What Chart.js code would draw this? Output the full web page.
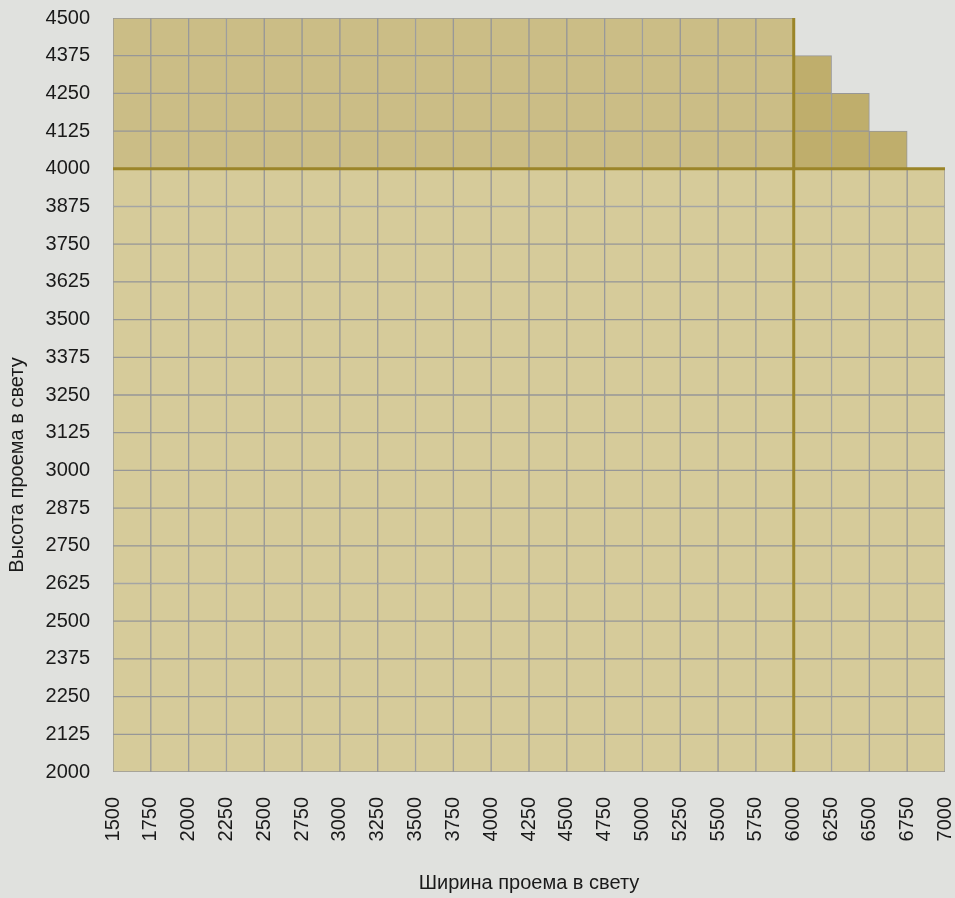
<!DOCTYPE html>
<html>
<head>
<meta charset="utf-8">
<script src="https://cdn.jsdelivr.net/npm/chart.js@4.4.0/dist/chart.umd.min.js"></script>
<style>
  html, body { margin: 0; padding: 0; background: #e0e1de; }
  #wrap { width: 955px; height: 898px; }
</style>
</head>
<body>
<div id="wrap"><canvas id="myChart"></canvas></div>
<script>
// opening width ticks (x) and height ticks (y)
const widthTicks = [1500, 1750, 2000, 2250, 2500, 2750, 3000, 3250, 3500, 3750, 4000,
  4250, 4500, 4750, 5000, 5250, 5500, 5750, 6000, 6250, 6500, 6750, 7000];
const heightTicks = [2000, 2125, 2250, 2375, 2500, 2625, 2750, 2875, 3000, 3125, 3250,
  3375, 3500, 3625, 3750, 3875, 4000, 4125, 4250, 4375, 4500];

// each cell column starts at columnStarts[i] and reaches up to columnTops[i]
const columnStarts = [1500, 1750, 2000, 2250, 2500, 2750, 3000, 3250, 3500, 3750, 4000,
  4250, 4500, 4750, 5000, 5250, 5500, 5750, 6000, 6250, 6500, 6750];
const columnTops = [4500, 4500, 4500, 4500, 4500, 4500, 4500, 4500, 4500, 4500, 4500,
  4500, 4500, 4500, 4500, 4500, 4500, 4500, 4375, 4250, 4125, 4000];
const columnWidth = 250;

// the two bold limit lines
const limitHeight = 4000;
const limitWidth = 6000;

const colors = {
  base: "#d6cb9a",
  upper: "#cbbd86",
  extra: "#bfae6c",
  limit: "#9b8529",
  grid: "#979797",
  text: "#1a1a1a",
};

// one bar dataset per row band, so every cell gets its own border
const datasets = [];
for (let r = 0; r < heightTicks.length - 1; r++) {
  const lo = heightTicks[r];
  const hi = heightTicks[r + 1];
  const data = [];
  const bg = [];
  columnStarts.forEach((start, i) => {
    if (columnTops[i] < hi) return;
    data.push({ x: start + columnWidth / 2, y: [lo, hi] });
    if (hi <= limitHeight) bg.push(colors.base);
    else if (start < limitWidth) bg.push(colors.upper);
    else bg.push(colors.extra);
  });
  datasets.push({
    type: "bar",
    data: data,
    backgroundColor: bg,
    borderColor: colors.grid,
    borderWidth: 1,
    borderSkipped: false,
    grouped: false,
    barPercentage: 1,
    categoryPercentage: 1,
    order: 2,
  });
}

datasets.push({
  type: "line",
  data: [{ x: widthTicks[0], y: limitHeight }, { x: widthTicks[widthTicks.length - 1], y: limitHeight }],
  borderColor: colors.limit,
  borderWidth: 3,
  pointRadius: 0,
  order: 0,
});
datasets.push({
  type: "line",
  data: [{ x: limitWidth, y: heightTicks[0] }, { x: limitWidth, y: heightTicks[heightTicks.length - 1] }],
  borderColor: colors.limit,
  borderWidth: 3,
  pointRadius: 0,
  order: 0,
});

const font = { family: "'Liberation Sans', Arial, sans-serif", size: 20 };

// y axis title drawn by hand so it can sit where the original has it
const yTitlePlugin = {
  id: "yTitle",
  afterDraw(chart) {
    const ctx = chart.ctx;
    ctx.save();
    ctx.translate(17, 465);
    ctx.rotate(-Math.PI / 2);
    ctx.font = `${font.size}px ${font.family}`;
    ctx.fillStyle = colors.text;
    ctx.textAlign = "center";
    ctx.textBaseline = "middle";
    ctx.fillText("Высота проема в свету", 0, 0);
    ctx.restore();
  },
};

const ctx = document.getElementById("myChart").getContext("2d");
new Chart(ctx, {
  type: "bar",
  data: { datasets: datasets },
  options: {
    responsive: true,
    maintainAspectRatio: false,
    animation: false,
    layout: { padding: { left: 36, top: 0, right: 0, bottom: 0 } },
    plugins: {
      legend: { display: false },
      tooltip: { enabled: false },
    },
    scales: {
      x: {
        type: "linear",
        offset: false,
        min: widthTicks[0],
        max: widthTicks[widthTicks.length - 1],
        grid: { display: false },
        border: { display: false },
        afterBuildTicks: (axis) => {
          axis.ticks = widthTicks.map((v) => ({ value: v }));
        },
        afterFit: (axis) => {
          axis.height = 126;
          axis.paddingRight = 10;
          axis.paddingLeft = 0;
        },
        ticks: {
          autoSkip: false,
          minRotation: 90,
          maxRotation: 90,
          padding: 17,
          color: colors.text,
          font: font,
          callback: (v) => String(v),
        },
        title: {
          display: true,
          text: "Ширина проема в свету",
          color: colors.text,
          font: font,
          padding: { top: 32, bottom: 3 },
        },
      },
      y: {
        type: "linear",
        min: heightTicks[0],
        max: heightTicks[heightTicks.length - 1],
        grid: { display: false },
        border: { display: false },
        afterBuildTicks: (axis) => {
          axis.ticks = heightTicks.map((v) => ({ value: v }));
        },
        afterFit: (axis) => {
          axis.width = 77;
          axis.paddingTop = 18;
          axis.paddingBottom = 0;
        },
        ticks: {
          padding: 15,
          color: colors.text,
          font: font,
          callback: (v) => String(v),
        },
      },
    },
  },
  plugins: [yTitlePlugin],
});
</script>
</body>
</html>
